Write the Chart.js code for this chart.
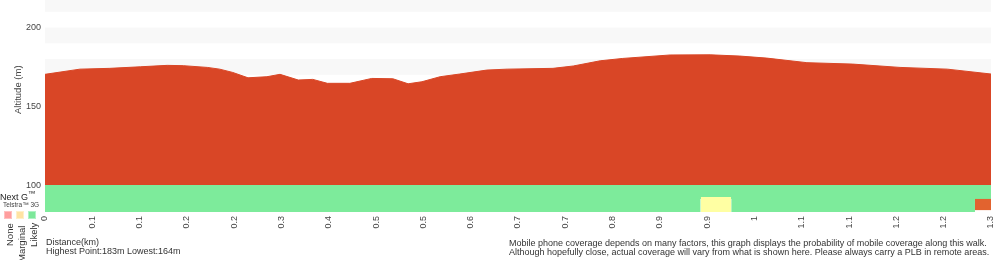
<!DOCTYPE html>
<html>
<head>
<meta charset="utf-8">
<script src="https://cdn.jsdelivr.net/npm/chart.js@4/dist/chart.umd.min.js"></script>
<style>
  html, body { margin: 0; padding: 0; background: #fff; }
  #wrap { position: relative; width: 1000px; height: 260px; overflow: hidden; font-family: "Liberation Sans", Arial, Helvetica, sans-serif; color: #333; }
  #c { position: absolute; left: 0; top: 0; }
  .t { position: absolute; white-space: nowrap; }
  .rot { position: absolute; white-space: nowrap; transform-origin: 0 0; transform: rotate(-90deg); }
  .box { position: absolute; width: 8px; height: 8px; top: 211px; }
</style>
</head>
<body>
<div id="wrap">
  <canvas id="c" width="1000" height="260"></canvas>
  <div class="rot" style="left:12px; top:114px; font-size:9.5px; color:#444;">Altitude (m)</div>
  <div class="t" style="left:0px; top:189px; font-size:9px; color:#222;">Next G<sup style="font-size:7.5px; vertical-align:4px;">™</sup></div>
  <div class="t" style="left:3px; top:201px; font-size:6.5px; color:#444;">Telstra™ 3G</div>
  <div class="box" style="left:4px; background:#ff9e9e; box-shadow: inset 0 0 0 1px #ffc0c0;"></div>
  <div class="box" style="left:16px; background:#ffe3a3; box-shadow: inset 0 0 0 1px #fff0c8;"></div>
  <div class="box" style="left:28px; background:#7de89a; box-shadow: inset 0 0 0 1px #b0f2c4;"></div>
  <div class="rot" style="left:4px; top:246px; font-size:9.5px; color:#333;">None</div>
  <div class="rot" style="left:16px; top:262px; font-size:9.5px; color:#333;">Marginal</div>
  <div class="rot" style="left:28px; top:247px; font-size:9.5px; color:#333;">Likely</div>
  <div class="t" style="left:46px; top:238px; font-size:9px; line-height:9px; color:#333;">Distance(km)<br>Highest Point:183m Lowest:164m</div>
  <div class="t" style="left:509px; top:239px; font-size:9px; line-height:9px; color:#333;">Mobile phone coverage depends on many factors, this graph displays the probability of mobile coverage along this walk.<br>Although hopefully close, actual coverage will vary from what is shown here. Please always carry a PLB in remote areas.</div>
</div>
<script>
// ---- data ----
const distKm = [0, 0.048, 0.089, 0.131, 0.168, 0.190, 0.223, 0.240, 0.258, 0.279, 0.305, 0.323, 0.348, 0.368, 0.388, 0.419, 0.449, 0.478, 0.499, 0.518, 0.543, 0.570, 0.607, 0.635, 0.698, 0.726, 0.763, 0.794, 0.859, 0.914, 0.955, 0.992, 1.047, 1.110, 1.175, 1.240, 1.300];
const altitudeM = [170.3, 173.6, 174.1, 175.1, 176.0, 175.8, 174.7, 173.6, 171.5, 168.1, 168.8, 170.3, 166.7, 167.1, 164.6, 164.6, 167.7, 167.5, 164.3, 165.6, 168.8, 170.5, 173.0, 173.6, 174.1, 175.6, 178.9, 180.4, 182.6, 182.7, 181.9, 180.6, 177.7, 176.8, 174.7, 173.6, 170.5];
const tickLabels = ["0", "0.1", "0.1", "0.2", "0.2", "0.3", "0.4", "0.5", "0.5", "0.6", "0.7", "0.7", "0.8", "0.9", "0.9", "1", "1.1", "1.1", "1.2", "1.2", "1.3"];
const nextGFrom = [0];
const nextGTo = [1.3];
const nextGLevel = ["Likely"];
const g3From = [0, 0.901, 0.943, 1.278];
const g3To = [0.901, 0.943, 1.278, 1.3];
const g3Level = ["Likely", "Marginal", "Likely", "None"];

// ---- styling ----
const levelColor = { Likely: "#7deb9b", Marginal: "#ffffa3", None: "#e2632f" };
const Y_MIN = 82.9, Y_MAX = 217.5;
const X_MAX = distKm[distKm.length - 1];
const rowNextG = { top: 100, bottom: 91.2 };
const row3G = { top: 92.4, bottom: 82.9 };
const row3GNone = { top: 91.2, bottom: 84.1 };
const tickFont = { family: '"Liberation Sans", Arial, sans-serif', size: 9 };

function segDataset(from, to, level, row, order) {
  return {
    type: 'line',
    data: [{ x: from, y: row.top }, { x: to, y: row.top }],
    borderWidth: 0,
    pointRadius: 0,
    backgroundColor: levelColor[level],
    borderColor: levelColor[level],
    fill: { value: row.bottom },
    order: order,
    tension: 0,
    clip: 0
  };
}

const datasets = [];
datasets.push({
  type: 'line',
  data: distKm.map((d, i) => ({ x: d, y: altitudeM[i] })),
  borderColor: '#d94626',
  borderWidth: 1,
  backgroundColor: '#d94626',
  pointRadius: 0,
  fill: { value: 100 },
  tension: 0,
  order: 0,
  clip: 0
});
nextGFrom.forEach((f, i) => datasets.push(segDataset(f, nextGTo[i], nextGLevel[i], rowNextG, 3)));
g3From.forEach((f, i) => datasets.push(segDataset(f, g3To[i], g3Level[i], g3Level[i] === 'None' ? row3GNone : row3G, 2)));

const bandPlugin = {
  id: 'bands',
  beforeDatasetsDraw(chart) {
    const { ctx, chartArea } = chart;
    const y = chart.scales.y;
    ctx.save();
    ctx.fillStyle = '#f8f8f8';
    for (let v = 100; v < Y_MAX; v += 10) {
      if (Math.floor(v / 10) % 2 === 1) {
        const top = Math.max(y.getPixelForValue(v + 10), chartArea.top);
        const bot = y.getPixelForValue(v);
        ctx.fillRect(chartArea.left, top, chartArea.right - chartArea.left, bot - top);
      }
    }
    ctx.restore();
  }
};

new Chart(document.getElementById('c'), {
  type: 'line',
  data: { datasets },
  plugins: [bandPlugin],
  options: {
    responsive: false,
    devicePixelRatio: 1,
    animation: false,
    layout: { padding: { left: 0, right: 9, top: 0, bottom: 0 } },
    plugins: { legend: { display: false }, tooltip: { enabled: false } },
    scales: {
      x: {
        type: 'linear',
        min: 0,
        max: X_MAX,
        grid: { display: false, drawTicks: false },
        border: { display: false },
        afterBuildTicks(scale) {
          scale.ticks = tickLabels.map((_, i) => ({ value: i * X_MAX / (tickLabels.length - 1) }));
        },
        afterFit(scale) { scale.height = 48; scale.paddingLeft = 0; scale.paddingRight = 0; },
        ticks: {
          autoSkip: false,
          maxRotation: 90,
          minRotation: 90,
          padding: 4,
          color: '#444',
          font: tickFont,
          callback: (v, i) => tickLabels[i]
        }
      },
      y: {
        min: Y_MIN,
        max: Y_MAX,
        grid: { display: false, drawTicks: false },
        border: { display: false },
        afterFit(scale) { scale.width = 45; scale.paddingTop = 0; scale.paddingBottom = 0; },
        ticks: {
          stepSize: 10,
          padding: 4,
          color: '#444',
          font: tickFont,
          callback: (v) => (v >= 100 && Math.abs(v % 50) < 1e-6) ? String(v) : ''
        }
      }
    }
  }
});
</script>
</body>
</html>
